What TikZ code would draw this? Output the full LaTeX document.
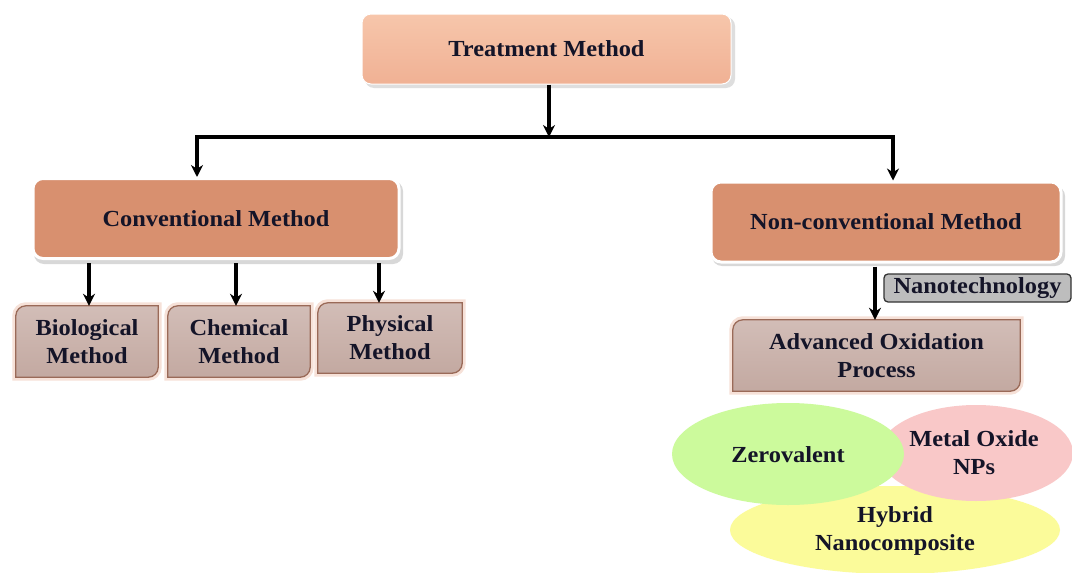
\documentclass[tikz,border=0pt]{standalone}
\usepackage{fontspec}
\setmainfont{Liberation Serif}[FakeStretch=1.06]
\usetikzlibrary{arrows.meta,calc}
\definecolor{topfill}{HTML}{F7C6AB}
\definecolor{topfilltwo}{HTML}{F0B194}
\definecolor{midfill}{HTML}{D8906F}
\definecolor{subfill}{HTML}{D2BDB7}
\definecolor{subfilltwo}{HTML}{C3A9A1}
\definecolor{subborder}{HTML}{9A6A58}
\definecolor{subglow}{HTML}{E9B9A2}
\definecolor{nanofill}{HTML}{BDBDBD}
\definecolor{greenfill}{HTML}{CCFA9C}
\definecolor{pinkfill}{HTML}{F9C8C8}
\definecolor{yellowfill}{HTML}{FBFB9A}
\definecolor{txt}{HTML}{141428}
\tikzset{
  x=1pt,y=-1pt,
  lbl/.style={font=\fontsize{23}{28}\selectfont\bfseries, text=txt, align=center},
  topbox/.style={lbl, rectangle, rounded corners=9, top color=topfill, bottom color=topfilltwo,
     draw=white, line width=1, minimum width=369, minimum height=70},
  midbox/.style={lbl, rectangle, rounded corners=10, fill=midfill, draw=white, line width=3,
     minimum height=80},
  subbox/.style={lbl, rectangle, minimum height=71, inner sep=0},
  nanobox/.style={lbl, rectangle, rounded corners=4, fill=nanofill, draw=black!80, line width=1.3,
     minimum width=187, minimum height=28, inner sep=0},
  blob/.style={lbl},
  arr/.style={-{Stealth[length=12pt,width=12pt]}, line width=3.4, black},
  ln/.style={line width=3.4, black},
}
% shape with rounded top-left and bottom-right corners, drawn round a named node
\newcommand\diagshape[1]{%
  \path[draw=subglow!70, line width=7, opacity=0.6]
    (#1.north east) -- ([yshift=10pt]#1.south east)
    arc[start angle=0, end angle=-90, radius=10pt] -- (#1.south west)
    -- ([yshift=-10pt]#1.north west) arc[start angle=180, end angle=90, radius=10pt] -- cycle;
  \path[draw=subborder, line width=1.3, top color=subfill, bottom color=subfilltwo]
    (#1.north east) -- ([yshift=10pt]#1.south east)
    arc[start angle=0, end angle=-90, radius=10pt] -- (#1.south west)
    -- ([yshift=-10pt]#1.north west) arc[start angle=180, end angle=90, radius=10pt] -- cycle;
}
\begin{document}
\begin{tikzpicture}
\useasboundingbox (0,0) rectangle (1072,573);
\fill[white] (0,0) rectangle (1072,573);

% ellipses (yellow, pink, green in that order)
\fill[yellowfill] (895,530) ellipse [x radius=165, y radius=44];
\fill[pinkfill] (976,453) ellipse [x radius=97, y radius=48];
\fill[greenfill] (788,454) ellipse [x radius=116, y radius=51];
\node[blob] (zero) at (788,455) {Zerovalent};
\node[blob] (metal) at (974,453) {Metal Oxide\\NPs};
\node[blob] (hybrid) at (895,531) {Hybrid\\Nanocomposite};

% top box
\fill[black!25, opacity=0.5, rounded corners=9] (365,17) rectangle (735,88);
\node[topbox] (treat) at (546.5,49) {Treatment Method};

% middle boxes
\fill[black!30, opacity=0.5, rounded corners=10] (34,181) rectangle (403,264);
\node[midbox, minimum width=366] (conv) at (216,218.5) {Conventional Method};
\fill[black!30, opacity=0.5, rounded corners=10] (712,186) rectangle (1065,266);
\node[midbox, minimum width=350] (nonconv) at (886,222) {Non-conventional Method};

% sub boxes
\node[subbox, minimum width=142] (bio) at (87,341.5) {};
\diagshape{bio}
\node[lbl] at (bio.center) {Biological\\Method};
\node[subbox, minimum width=142] (chem) at (239,341.5) {};
\diagshape{chem}
\node[lbl] at (chem.center) {Chemical\\Method};
\node[subbox, minimum width=144, minimum height=70] (phys) at (390,338) {};
\diagshape{phys}
\node[lbl] at (phys.center) {Physical\\Method};
\node[subbox, minimum width=287] (aop) at (876.5,355.5) {};
\diagshape{aop}
\node[lbl] at (aop.center) {Advanced Oxidation\\Process};

% nanotechnology tag
\node[nanobox] (nano) at (977.5,288) {Nanotechnology};

% connectors
\coordinate (hl) at (197,137);
\coordinate (hr) at (893,137);
\coordinate (hm) at (549,137);
\draw[arr] (treat.south -| hm) -- (hm);
\draw[ln] ([xshift=-1.7pt]hl) -- ([xshift=1.7pt]hr);
\draw[arr] (hl) -- (conv.north -| hl);
\draw[arr] (hr) -- (nonconv.north -| hr);

\coordinate (pb) at ([xshift=2pt]bio.north);
\coordinate (pc) at ([xshift=-3pt]chem.north);
\coordinate (pp) at ([xshift=-11pt]phys.north);
\draw[arr] ([yshift=-3pt]conv.south -| pb) -- (pb);
\draw[arr] ([yshift=-3pt]conv.south -| pc) -- (pc);
\draw[arr] ([yshift=-3pt]conv.south -| pp) -- (pp);
\coordinate (pa) at ([xshift=-1.5pt]aop.north);
\draw[arr] ([yshift=-3pt]nonconv.south -| pa) -- (pa);
\end{tikzpicture}
\end{document}
